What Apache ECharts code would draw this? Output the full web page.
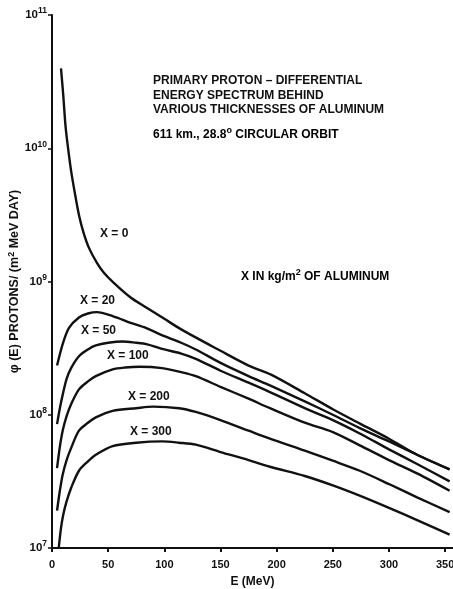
<!DOCTYPE html>
<html>
<head>
<meta charset="utf-8">
<script src="https://cdn.jsdelivr.net/npm/echarts@6/dist/echarts.min.js"></script>
<style>
html,body{margin:0;padding:0;background:#fff;}
#chart{width:453px;height:589px;}
</style>
</head>
<body>
<div id="chart"></div>
<script>
// Energy (MeV) and differential flux (protons / m^2 MeV day)
var x0E = [8, 10, 12, 14, 17, 20, 24, 28, 33, 40, 46, 55, 70, 85, 100, 115, 150, 175, 195, 225, 250, 275, 300, 325, 354];
var x0Flux = [3.98e10, 2.51e10, 1.48e10, 1.05e10, 6.76e9, 4.79e9, 3.16e9, 2.34e9, 1.78e9, 1.38e9, 1.17e9, 9.77e8, 7.59e8, 6.31e8, 5.25e8, 4.37e8, 3.02e8, 2.34e8, 2.00e8, 1.45e8, 1.10e8, 8.51e7, 6.61e7, 5.01e7, 3.89e7];

var x20E = [4.5, 9.5, 15, 24, 32, 40, 54, 70, 84, 100, 115, 128, 150, 175, 194, 225, 250, 274, 300, 325, 354];
var x20Flux = [2.34e8, 3.39e8, 4.47e8, 5.37e8, 5.75e8, 5.89e8, 5.50e8, 4.90e8, 4.47e8, 3.89e8, 3.47e8, 3.09e8, 2.45e8, 1.95e8, 1.66e8, 1.26e8, 1.00e8, 7.94e7, 6.31e7, 5.01e7, 3.89e7];

var x50E = [4.5, 7, 9.5, 13, 17, 24, 32, 39, 50, 63, 75, 84, 100, 115, 128, 150, 175, 194, 225, 250, 274, 300, 325, 354];
var x50Flux = [8.51e7, 1.12e8, 1.41e8, 1.86e8, 2.24e8, 2.75e8, 3.09e8, 3.31e8, 3.47e8, 3.55e8, 3.47e8, 3.39e8, 3.09e8, 2.88e8, 2.63e8, 2.14e8, 1.74e8, 1.48e8, 1.12e8, 9.12e7, 7.24e7, 5.50e7, 4.27e7, 3.16e7];

var x100E = [4.5, 7, 9.5, 13, 17, 24, 32, 39, 54, 65, 78, 98, 115, 128, 150, 175, 194, 225, 250, 274, 300, 325, 354];
var x100Flux = [3.98e7, 5.75e7, 7.59e7, 9.77e7, 1.20e8, 1.55e8, 1.78e8, 1.95e8, 2.19e8, 2.26e8, 2.29e8, 2.24e8, 2.09e8, 1.95e8, 1.62e8, 1.32e8, 1.12e8, 8.71e7, 7.41e7, 5.89e7, 4.57e7, 3.63e7, 2.69e7];

var x200E = [4.5, 7, 9.5, 13, 17, 24, 32, 39, 54, 75, 90, 113, 128, 150, 175, 194, 225, 250, 274, 300, 325, 354];
var x200Flux = [1.91e7, 2.69e7, 3.55e7, 4.57e7, 5.62e7, 7.59e7, 8.71e7, 9.55e7, 1.07e8, 1.12e8, 1.15e8, 1.12e8, 1.05e8, 9.12e7, 7.59e7, 6.61e7, 5.37e7, 4.52e7, 3.80e7, 3.02e7, 2.40e7, 1.86e7];

var x300E = [6, 8, 10, 13, 17, 24, 32, 39, 54, 75, 98, 113, 128, 150, 175, 194, 225, 250, 275, 300, 325, 354];
var x300Flux = [1.00e7, 1.41e7, 1.78e7, 2.24e7, 2.82e7, 3.80e7, 4.47e7, 5.01e7, 5.82e7, 6.17e7, 6.31e7, 6.17e7, 5.96e7, 5.25e7, 4.57e7, 4.07e7, 3.47e7, 2.95e7, 2.45e7, 2.00e7, 1.62e7, 1.26e7];

var seriesNames = ['X = 0', 'X = 20', 'X = 50', 'X = 100', 'X = 200', 'X = 300'];
var titleLines = ['PRIMARY PROTON \u2013 DIFFERENTIAL', 'ENERGY SPECTRUM BEHIND', 'VARIOUS THICKNESSES OF ALUMINUM'];
var orbitText = '611 km., 28.8{sup|o} CIRCULAR ORBIT';
var unitText = 'X IN kg/m{sup|2} OF ALUMINUM';
var yAxisTitle = '\u03c6 (E) PROTONS/ (m{sup|2} MeV DAY)';
var xAxisTitle = 'E (MeV)';

var FONT = '"Liberation Sans", Arial, Helvetica, sans-serif';
var INK = '#111';

function pairs(xs, ys) { return xs.map(function (x, i) { return [x, ys[i]]; }); }
var allE = [x0E, x20E, x50E, x100E, x200E, x300E];
var allF = [x0Flux, x20Flux, x50Flux, x100Flux, x200Flux, x300Flux];

var chart = echarts.init(document.getElementById('chart'), null, {renderer: 'canvas'});

var supRich = {
  n: {fontSize: 12, fontWeight: 'bold', fontFamily: FONT, color: INK},
  sup: {fontSize: 9, fontWeight: 'bold', fontFamily: FONT, color: INK, padding: [0, 0, 8, 0]}
};

var labelPos = [[100, 235], [80, 302], [81, 332], [107, 357], [128, 398], [130, 433]];

var graphics = [];
titleLines.forEach(function (t, i) {
  graphics.push({type: 'text', left: 153, top: 75 + i * 14.2,
    style: {text: t, font: 'bold 12px ' + FONT, fill: INK}});
});
graphics.push({type: 'text', left: 153, top: 126,
  style: {text: '{n|' + orbitText.replace('{sup|o}', '}{sup|o}{n|') + '}', rich: supRich}});
graphics.push({type: 'text', left: 241, top: 268,
  style: {text: '{n|' + unitText.replace('{sup|2}', '}{sup|2}{n|') + '}', rich: supRich}});
seriesNames.forEach(function (nm, i) {
  graphics.push({type: 'text', left: labelPos[i][0], top: labelPos[i][1] - 7,
    style: {text: nm, font: 'bold 12px ' + FONT, fill: INK}});
});

var option = {
  animation: false,
  backgroundColor: '#fff',
  grid: {left: 52, right: 0, top: 15, bottom: 41, containLabel: false, outerBoundsMode: 'none'},
  xAxis: {
    type: 'value', min: 0, max: 357, interval: 50,
    name: xAxisTitle, nameLocation: 'middle', nameGap: 28, nameMoveOverlap: false,
    nameTextStyle: {fontFamily: FONT, fontWeight: 'bold', fontSize: 12, color: INK},
    axisLine: {lineStyle: {color: INK, width: 2}},
    axisTick: {length: 4, lineStyle: {color: INK, width: 2}},
    axisLabel: {fontFamily: FONT, fontWeight: 'bold', fontSize: 11, color: INK, margin: 11, showMaxLabel: false},
    splitLine: {show: false}
  },
  yAxis: {
    type: 'log', logBase: 10, min: 1e7, max: 1e11,
    name: '{n|' + yAxisTitle.replace('{sup|2}', '}{sup|2}{n|') + '}',
    nameLocation: 'middle', nameGap: 30, nameRotate: 90, nameMoveOverlap: false,
    nameTextStyle: {rich: {
      n: {fontSize: 12.5, fontWeight: 'bold', fontFamily: FONT, color: INK},
      sup: {fontSize: 9, fontWeight: 'bold', fontFamily: FONT, color: INK, padding: [0, 0, 6, 0]}
    }},
    axisLine: {lineStyle: {color: INK, width: 2}},
    axisTick: {length: 4, lineStyle: {color: INK, width: 1.5}},
    minorTick: {show: false},
    axisLabel: {
      margin: 5,
      formatter: function (v) { return '{b|10}{s|' + Math.round(Math.log10(v)) + '}'; },
      rich: {
        b: {fontSize: 11.5, fontWeight: 'bold', fontFamily: FONT, color: INK},
        s: {fontSize: 8.5, fontWeight: 'bold', fontFamily: FONT, color: INK, padding: [0, 0, 8, 0]}
      }
    },
    splitLine: {show: false}
  },
  graphic: graphics,
  series: seriesNames.map(function (nm, i) {
    return {
      name: nm, type: 'line', data: pairs(allE[i], allF[i]),
      smooth: 0.3, symbol: 'none',
      lineStyle: {color: INK, width: 2.4}
    };
  })
};
chart.setOption(option);
</script>
</body>
</html>
